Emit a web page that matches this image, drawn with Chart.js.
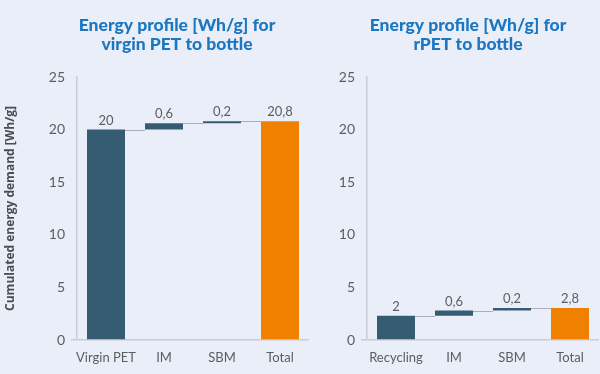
<!DOCTYPE html>
<html>
<head>
<meta charset="utf-8">
<script src="https://cdn.jsdelivr.net/npm/chart.js@4"></script>
<style>
  html, body { margin: 0; padding: 0; background: #eaeef8; overflow: hidden; }
  #wrap { position: relative; width: 600px; height: 374px; }
  .box { position: absolute; top: 0; height: 374px; }
</style>
</head>
<body>
<div id="wrap">
  <div class="box" style="left:0;width:310px"><canvas id="c1"></canvas></div>
  <div class="box" style="left:310px;width:290px"><canvas id="c2"></canvas></div>
</div>
<script>
// ---- data ----
const categoriesVirgin = ['Virgin PET', 'IM', 'SBM', 'Total'];
const startVirgin = [0, 20, 20.6, 0];
const endVirgin = [20, 20.6, 20.8, 20.8];
const labelsVirgin = ['20', '0,6', '0,2', '20,8'];

const categoriesRecycled = ['Recycling', 'IM', 'SBM', 'Total'];
const startRecycled = [0, 2.3, 2.8, 0];
const endRecycled = [2.3, 2.8, 3.05, 3.05];
const labelsRecycled = ['2', '0,6', '0,2', '2,8'];

const titleVirgin = ['Energy profile [Wh/g] for', 'virgin PET to bottle'];
const titleRecycled = ['Energy profile [Wh/g] for', 'rPET to bottle'];
const yAxisTitle = 'Cumulated energy demand [Wh/g]';
const yMin = 0, yMax = 25, yStep = 5;

// ---- styles ----
const BLUE_DARK = '#365c74';
const ORANGE = '#f08000';
const GREY_TEXT = '#5b5d61';
const AXIS_GREY = '#c9ccd4';
const FONT = 'Lato';

const drawExtras = {
  id: 'drawExtras',
  afterDatasetsDraw(chart, args, opts) {
    const ctx = chart.ctx;
    const meta = chart.getDatasetMeta(0);
    const y = chart.scales.y;
    const ends = opts.ends;
    ctx.save();
    // connectors
    ctx.strokeStyle = '#a9adb5';
    ctx.lineWidth = 1;
    for (let i = 0; i < meta.data.length - 1; i++) {
      const a = meta.data[i], b = meta.data[i + 1];
      const py = Math.round(y.getPixelForValue(ends[i])) + 0.5;
      ctx.beginPath();
      ctx.moveTo(a.x + a.width / 2, py);
      ctx.lineTo(b.x - b.width / 2, py);
      ctx.stroke();
    }
    // value labels
    ctx.fillStyle = GREY_TEXT;
    ctx.font = '13px ' + FONT;
    ctx.textAlign = 'center';
    ctx.textBaseline = 'middle';
    meta.data.forEach((bar, i) => {
      const top = Math.min(bar.y, bar.base);
      ctx.fillText(opts.labels[i], bar.x, top - 9);
    });
    // title
    ctx.fillStyle = '#1c77c1';
    ctx.font = '900 17.5px ' + FONT;
    opts.title.forEach((t, i) => ctx.fillText(t, opts.titleX, 25 + i * 19.5));
    ctx.restore();
  }
};

function makeChart(id, cats, starts, ends, labels, title, titleX, yWidth, showYTitle) {
  const colors = cats.map((c, i) => i === cats.length - 1 ? ORANGE : BLUE_DARK);
  return new Chart(document.getElementById(id), {
    type: 'bar',
    data: {
      labels: cats,
      datasets: [{
        data: starts.map((s, i) => [s, ends[i]]),
        backgroundColor: colors,
        borderWidth: 0,
        barPercentage: 0.655,
        categoryPercentage: 1
      }]
    },
    options: {
      responsive: true,
      maintainAspectRatio: false,
      animation: false,
      layout: { padding: { top: 77, right: 1, bottom: 0, left: 0 } },
      plugins: {
        legend: { display: false },
        tooltip: { enabled: false },
        title: { display: false },
        drawExtras: { ends, labels, title, titleX }
      },
      scales: {
        x: {
          grid: { display: false },
          border: { display: false },
          ticks: { color: GREY_TEXT, font: { family: FONT, size: 13 }, padding: 2, maxRotation: 0, autoSkip: false },
          afterFit(s) { s.height = 34; }
        },
        y: {
          min: yMin, max: yMax,
          ticks: { stepSize: yStep, color: GREY_TEXT, font: { family: FONT, size: 14 }, padding: 6 },
          grid: {
            color: c => (c.tick && c.tick.value === 0) ? AXIS_GREY : 'rgba(0,0,0,0)',
            lineWidth: 1.5,
            tickLength: 6,
            drawOnChartArea: true
          },
          border: { display: true, color: AXIS_GREY, width: 1.5 },
          title: {
            display: showYTitle,
            text: yAxisTitle,
            color: '#4a4c50',
            font: { family: 'Open Sans', size: 12, weight: 'bold' },
            padding: { top: 3, bottom: 0 }
          },
          afterFit(s) { s.width = yWidth; }
        }
      }
    },
    plugins: [drawExtras]
  });
}

makeChart('c1', categoriesVirgin, startVirgin, endVirgin, labelsVirgin, titleVirgin, 177, 77, true);
makeChart('c2', categoriesRecycled, startRecycled, endRecycled, labelsRecycled, titleRecycled, 158, 57, false);
</script>
</body>
</html>
